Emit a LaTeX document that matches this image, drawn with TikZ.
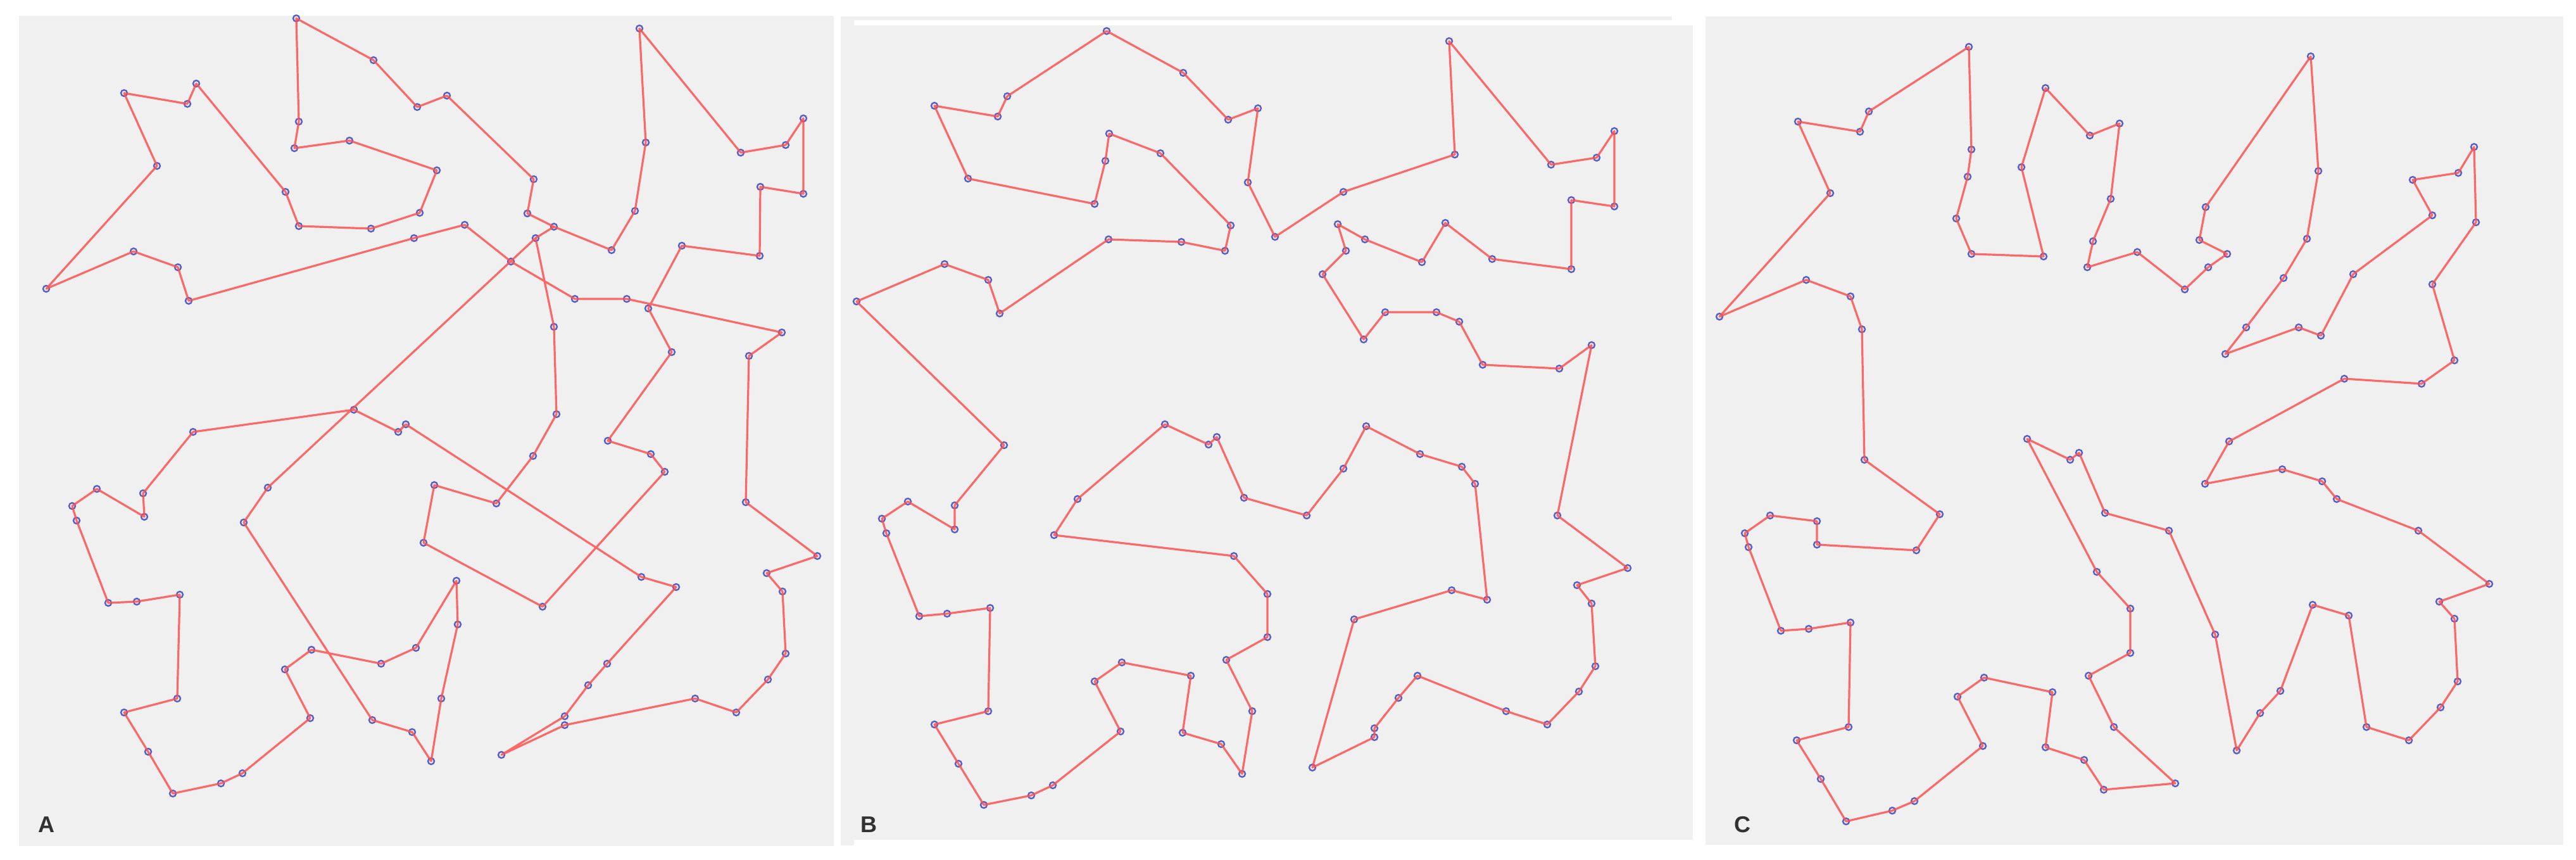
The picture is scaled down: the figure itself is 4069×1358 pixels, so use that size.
\documentclass[tikz,border=0pt]{standalone}
\usepackage{fontspec}
\setmainfont{Liberation Sans}
\definecolor{panelbg}{RGB}{240,240,240}
\definecolor{tourred}{RGB}{255,80,80}
\definecolor{ptblue}{RGB}{85,95,200}
\definecolor{lblgray}{RGB}{50,50,50}
\tikzset{
  tour/.style={draw=tourred, line width=0.8pt, line join=round, opacity=0.85},
  city/.style={circle, draw=ptblue, line width=0.6pt, inner sep=0pt, minimum size=2.5pt},
  panel/.style={fill=panelbg, draw=none},
  lbl/.style={font=\bfseries\fontsize{9}{9}\selectfont, text=lblgray, inner sep=0pt}
}
\begin{document}
\begin{tikzpicture}[x=0.25pt, y=-0.25pt]
\useasboundingbox (0,0) rectangle (4069,1358);
\fill[white] (0,0) rectangle (4069,1358);
% panels
\fill[panel] (30,25) rectangle (1317,1336);
\fill[panel] (1328,26) rectangle (2641,32);
\fill[panel] (1328,32) rectangle (1349,1335);
\fill[panel] (1349,40) rectangle (2674,1326);
\fill[panel] (2694,26) rectangle (4049,1334);

% ---------- Panel A points ----------
\coordinate (a1) at (468,29);
\coordinate (a2) at (590,95);
\coordinate (a3) at (659,169);
\coordinate (a4) at (472,192);
\coordinate (a5) at (465,234);
\coordinate (a6) at (552,222);
\coordinate (a7) at (663,336);
\coordinate (a8) at (586,361);
\coordinate (a9) at (472,357);
\coordinate (a10) at (451,303);
\coordinate (a11) at (310,132);
\coordinate (a12) at (296,164);
\coordinate (a13) at (196,147);
\coordinate (a14) at (248,262);
\coordinate (a15) at (73,456);
\coordinate (a16) at (211,397);
\coordinate (a17) at (281,422);
\coordinate (a18) at (298,475);
\coordinate (a19) at (654,376);
\coordinate (a20) at (559,647);
\coordinate (a21) at (641,670);
\coordinate (a22) at (629,682);
\coordinate (a23) at (305,682);
\coordinate (b1) at (1010,45);
\coordinate (b2) at (1020,225);
\coordinate (b3) at (1003,333);
\coordinate (b4) at (966,395);
\coordinate (b5) at (875,358);
\coordinate (b6) at (846,376);
\coordinate (b7) at (807,413);
\coordinate (b8) at (734,355);
\coordinate (b9) at (833,337);
\coordinate (b10) at (843,283);
\coordinate (b11) at (706,151);
\coordinate (b12) at (690,269);
\coordinate (b13) at (908,472);
\coordinate (b14) at (990,472);
\coordinate (b15) at (1024,487);
\coordinate (b16) at (1061,556);
\coordinate (b17) at (1077,388);
\coordinate (b18) at (1200,404);
\coordinate (b19) at (1201,295);
\coordinate (b20) at (1269,306);
\coordinate (b21) at (1269,187);
\coordinate (b22) at (1241,229);
\coordinate (b23) at (1170,241);
\coordinate (b24) at (1235,525);
\coordinate (b25) at (1183,562);
\coordinate (b26) at (875,516);
\coordinate (b27) at (879,654);
\coordinate (c2) at (226,779);
\coordinate (c3) at (228,816);
\coordinate (c4) at (153,772);
\coordinate (c5) at (114,799);
\coordinate (c6) at (121,822);
\coordinate (c7) at (171,952);
\coordinate (c8) at (216,950);
\coordinate (c9) at (284,939);
\coordinate (c10) at (280,1103);
\coordinate (c11) at (196,1125);
\coordinate (c12) at (234,1187);
\coordinate (c13) at (273,1253);
\coordinate (c14) at (349,1237);
\coordinate (c15) at (383,1221);
\coordinate (c16) at (490,1134);
\coordinate (c17) at (450,1057);
\coordinate (c18) at (492,1026);
\coordinate (c19) at (602,1048);
\coordinate (c20) at (657,1023);
\coordinate (c22) at (423,770);
\coordinate (c23) at (385,825);
\coordinate (c24) at (588,1137);
\coordinate (c25) at (651,1156);
\coordinate (d1) at (842,720);
\coordinate (d2) at (686,766);
\coordinate (d3) at (784,795);
\coordinate (d4) at (669,857);
\coordinate (d5) at (857,958);
\coordinate (d6) at (1013,911);
\coordinate (d7) at (1068,927);
\coordinate (d8) at (960,696);
\coordinate (d9) at (1028,717);
\coordinate (d10) at (1050,745);
\coordinate (d11) at (1178,793);
\coordinate (d12) at (1291,878);
\coordinate (d13) at (1211,905);
\coordinate (d14) at (1236,934);
\coordinate (d15) at (1241,1032);
\coordinate (d16) at (1213,1073);
\coordinate (d17) at (1163,1125);
\coordinate (d18) at (1098,1103);
\coordinate (d19) at (892,1131);
\coordinate (d20) at (892,1145);
\coordinate (d21) at (792,1192);
\coordinate (d22) at (929,1082);
\coordinate (d23) at (959,1048);
\coordinate (d24) at (721,917);
\coordinate (d25) at (723,986);
\coordinate (d26) at (697,1103);
\coordinate (d27) at (681,1202);

% ---------- Panel B points ----------
\coordinate (e1) at (1748,49);
\coordinate (e2) at (1869,115);
\coordinate (e3) at (1940,189);
\coordinate (e4) at (1987,171);
\coordinate (e5) at (1971,288);
\coordinate (e7) at (1591,152);
\coordinate (e8) at (1576,184);
\coordinate (e9) at (1476,167);
\coordinate (e10) at (1529,282);
\coordinate (e11) at (1729,322);
\coordinate (e12) at (1746,254);
\coordinate (e13) at (1752,211);
\coordinate (e14) at (1833,242);
\coordinate (e15) at (1944,356);
\coordinate (e16) at (1935,396);
\coordinate (e17) at (1866,382);
\coordinate (e18) at (1751,378);
\coordinate (e19) at (1579,495);
\coordinate (e20) at (1561,442);
\coordinate (e21) at (1492,417);
\coordinate (e22) at (1353,476);
\coordinate (f1) at (2289,65);
\coordinate (f2) at (2298,244);
\coordinate (f3) at (2122,303);
\coordinate (f4) at (2014,374);
\coordinate (f5) at (2450,260);
\coordinate (f6) at (2522,249);
\coordinate (f7) at (2550,207);
\coordinate (f8) at (2550,326);
\coordinate (f9) at (2482,316);
\coordinate (f10) at (2482,425);
\coordinate (f11) at (2357,409);
\coordinate (f12) at (2283,352);
\coordinate (f13) at (2246,414);
\coordinate (f14) at (2156,378);
\coordinate (f15) at (2113,354);
\coordinate (f16) at (2126,396);
\coordinate (f17) at (2089,433);
\coordinate (f18) at (2154,536);
\coordinate (f19) at (2188,493);
\coordinate (f20) at (2269,493);
\coordinate (f21) at (2305,508);
\coordinate (f22) at (2342,576);
\coordinate (f23) at (2463,582);
\coordinate (f24) at (2514,545);
\coordinate (g1) at (1586,703);
\coordinate (g2) at (1508,798);
\coordinate (g3) at (1508,836);
\coordinate (g4) at (1434,792);
\coordinate (g5) at (1393,819);
\coordinate (g6) at (1400,842);
\coordinate (g7) at (1452,973);
\coordinate (g8) at (1496,969);
\coordinate (g9) at (1564,960);
\coordinate (g10) at (1561,1123);
\coordinate (g11) at (1476,1144);
\coordinate (g12) at (1514,1206);
\coordinate (g13) at (1554,1271);
\coordinate (g14) at (1629,1256);
\coordinate (g15) at (1663,1240);
\coordinate (g16) at (1770,1155);
\coordinate (g17) at (1729,1076);
\coordinate (g18) at (1772,1046);
\coordinate (g19) at (1881,1067);
\coordinate (g20) at (1868,1157);
\coordinate (g21) at (1929,1175);
\coordinate (g22) at (1962,1222);
\coordinate (g23) at (1978,1123);
\coordinate (g24) at (1937,1042);
\coordinate (g25) at (2002,1006);
\coordinate (g26) at (2002,938);
\coordinate (g27) at (1949,878);
\coordinate (g28) at (1665,845);
\coordinate (g29) at (1702,788);
\coordinate (g30) at (1840,670);
\coordinate (g31) at (1909,702);
\coordinate (g32) at (1922,690);
\coordinate (g33) at (1965,786);
\coordinate (h1) at (2158,673);
\coordinate (h2) at (2122,740);
\coordinate (h3) at (2064,814);
\coordinate (h4) at (2243,717);
\coordinate (h5) at (2309,737);
\coordinate (h6) at (2330,764);
\coordinate (h7) at (2349,947);
\coordinate (h8) at (2293,932);
\coordinate (h9) at (2139,978);
\coordinate (h10) at (2073,1212);
\coordinate (h11) at (2171,1164);
\coordinate (h12) at (2171,1150);
\coordinate (h13) at (2209,1102);
\coordinate (h14) at (2239,1067);
\coordinate (h15) at (2379,1123);
\coordinate (h16) at (2444,1144);
\coordinate (h17) at (2494,1092);
\coordinate (h18) at (2520,1052);
\coordinate (h19) at (2514,953);
\coordinate (h20) at (2491,924);
\coordinate (h21) at (2571,897);
\coordinate (h22) at (2460,814);

% ---------- Panel C points ----------
\coordinate (k1) at (3110,74);
\coordinate (k2) at (2952,176);
\coordinate (k3) at (2938,208);
\coordinate (k4) at (2840,192);
\coordinate (k5) at (2891,305);
\coordinate (k6) at (2716,500);
\coordinate (k7) at (2853,442);
\coordinate (k8) at (2923,468);
\coordinate (k9) at (2941,520);
\coordinate (k10) at (2945,726);
\coordinate (k11) at (3064,812);
\coordinate (k12) at (3027,869);
\coordinate (k13) at (2870,860);
\coordinate (k14) at (2870,823);
\coordinate (k15) at (2796,814);
\coordinate (k16) at (2756,842);
\coordinate (k17) at (2762,864);
\coordinate (k18) at (2813,996);
\coordinate (k19) at (2857,993);
\coordinate (k20) at (2923,983);
\coordinate (k21) at (2920,1148);
\coordinate (k22) at (2838,1169);
\coordinate (k23) at (2876,1230);
\coordinate (k24) at (2916,1297);
\coordinate (k25) at (2989,1280);
\coordinate (k26) at (3024,1265);
\coordinate (k27) at (3132,1178);
\coordinate (k28) at (3092,1100);
\coordinate (k29) at (3134,1070);
\coordinate (k30) at (3242,1093);
\coordinate (k31) at (3231,1180);
\coordinate (k32) at (3292,1200);
\coordinate (k33) at (3323,1247);
\coordinate (k34) at (3436,1237);
\coordinate (k35) at (3339,1148);
\coordinate (k36) at (3299,1067);
\coordinate (k37) at (3365,1031);
\coordinate (k38) at (3365,961);
\coordinate (k39) at (3312,903);
\coordinate (k40) at (3202,693);
\coordinate (k41) at (3270,726);
\coordinate (k42) at (3284,715);
\coordinate (k43) at (3325,810);
\coordinate (k44) at (3426,838);
\coordinate (k45) at (3499,1002);
\coordinate (k46) at (3533,1185);
\coordinate (k47) at (3570,1126);
\coordinate (k48) at (3602,1091);
\coordinate (k49) at (3653,955);
\coordinate (k50) at (3710,972);
\coordinate (k51) at (3738,1148);
\coordinate (k52) at (3805,1169);
\coordinate (k53) at (3855,1117);
\coordinate (k54) at (3882,1076);
\coordinate (k55) at (3877,977);
\coordinate (k56) at (3853,950);
\coordinate (k57) at (3932,922);
\coordinate (k58) at (3820,838);
\coordinate (k59) at (3691,788);
\coordinate (k60) at (3668,760);
\coordinate (k61) at (3605,741);
\coordinate (k62) at (3483,764);
\coordinate (k63) at (3521,697);
\coordinate (k64) at (3703,598);
\coordinate (k65) at (3825,606);
\coordinate (k66) at (3877,569);
\coordinate (k67) at (3842,449);
\coordinate (k68) at (3911,351);
\coordinate (k69) at (3908,232);
\coordinate (k70) at (3883,273);
\coordinate (k71) at (3811,284);
\coordinate (k72) at (3842,340);
\coordinate (k73) at (3717,433);
\coordinate (k74) at (3666,530);
\coordinate (k75) at (3631,517);
\coordinate (k76) at (3515,559);
\coordinate (k77) at (3548,517);
\coordinate (k78) at (3607,439);
\coordinate (k79) at (3644,377);
\coordinate (k80) at (3662,270);
\coordinate (k81) at (3650,89);
\coordinate (k82) at (3484,327);
\coordinate (k83) at (3474,379);
\coordinate (k84) at (3518,401);
\coordinate (k85) at (3488,422);
\coordinate (k86) at (3451,457);
\coordinate (k87) at (3376,398);
\coordinate (k88) at (3297,422);
\coordinate (k89) at (3306,381);
\coordinate (k90) at (3334,314);
\coordinate (k91) at (3348,195);
\coordinate (k92) at (3301,214);
\coordinate (k93) at (3231,139);
\coordinate (k94) at (3193,264);
\coordinate (k95) at (3228,405);
\coordinate (k96) at (3114,401);
\coordinate (k97) at (3090,345);
\coordinate (k98) at (3108,279);
\coordinate (k99) at (3114,236);

% ---------- city markers ----------
\foreach \n in {a1,a2,a3,a4,a5,a6,a7,a8,a9,a10,a11,a12,a13,a14,a15,a16,a17,a18,a19,a20,a21,a22,a23,
  b1,b2,b3,b4,b5,b6,b7,b8,b9,b10,b11,b12,b13,b14,b15,b16,b17,b18,b19,b20,b21,b22,b23,b24,b25,b26,b27,
  c2,c3,c4,c5,c6,c7,c8,c9,c10,c11,c12,c13,c14,c15,c16,c17,c18,c19,c20,c22,c23,c24,c25,
  d1,d2,d3,d4,d5,d6,d7,d8,d9,d10,d11,d12,d13,d14,d15,d16,d17,d18,d19,d20,d21,d22,d23,d24,d25,d26,d27,
  e1,e2,e3,e4,e5,e7,e8,e9,e10,e11,e12,e13,e14,e15,e16,e17,e18,e19,e20,e21,e22,
  f1,f2,f3,f4,f5,f6,f7,f8,f9,f10,f11,f12,f13,f14,f15,f16,f17,f18,f19,f20,f21,f22,f23,f24,
  g1,g2,g3,g4,g5,g6,g7,g8,g9,g10,g11,g12,g13,g14,g15,g16,g17,g18,g19,g20,g21,g22,g23,g24,g25,g26,g27,g28,g29,g30,g31,g32,g33,
  h1,h2,h3,h4,h5,h6,h7,h8,h9,h10,h11,h12,h13,h14,h15,h16,h17,h18,h19,h20,h21,h22}
  \node[city] (m-\n) at (\n) {};
\foreach \i in {1,...,99}
  \node[city] (m-k\i) at (k\i) {};

% ---------- tour A ----------
\draw[tour] (a1) -- (a4) -- (a5) -- (a6) -- (b12) -- (a7) -- (a8) -- (a9) -- (a10) -- (a11) -- (a12) -- (a13) -- (a14) -- (a15) -- (a16) -- (a17) -- (a18) -- (a19) -- (b8) -- (b7) -- (b13) -- (b14) -- (b24) -- (b25) -- (d11) -- (d12) -- (d13) -- (d14) -- (d15) -- (d16) -- (d17) -- (d18) -- (d20) -- (d21) -- (d19) -- (d22) -- (d23) -- (d7) -- (d6) -- (a21) -- (a22) -- (a20) -- (a23) -- (c2) -- (c3) -- (c4) -- (c5) -- (c6) -- (c7) -- (c8) -- (c9) -- (c10) -- (c11) -- (c12) -- (c13) -- (c14) -- (c15) -- (c16) -- (c17) -- (c18) -- (c19) -- (c20) -- (d24) -- (d25) -- (d26) -- (d27) -- (c25) -- (c24) -- (c23) -- (c22) -- (b6) -- (b26) -- (b27) -- (d1) -- (d3) -- (d2) -- (d4) -- (d5) -- (d10) -- (d9) -- (d8) -- (b16) -- (b15) -- (b17) -- (b18) -- (b19) -- (b20) -- (b21) -- (b22) -- (b23) -- (b1) -- (b2) -- (b3) -- (b4) -- (b5) -- (b9) -- (b10) -- (b11) -- (a3) -- (a2) -- cycle;
\draw[tour] (b6) -- (b5);

% ---------- tour B ----------
\draw[tour] (e1) -- (e2) -- (e3) -- (e4) -- (e5) -- (f4) -- (f3) -- (f2) -- (f1) -- (f5) -- (f6) -- (f7) -- (f8) -- (f9) -- (f10) -- (f11) -- (f12) -- (f13) -- (f14) -- (f15) -- (f16) -- (f17) -- (f18) -- (f19) -- (f20) -- (f21) -- (f22) -- (f23) -- (f24) -- (h22) -- (h21) -- (h20) -- (h19) -- (h18) -- (h17) -- (h16) -- (h15) -- (h14) -- (h13) -- (h12) -- (h11) -- (h10) -- (h9) -- (h8) -- (h7) -- (h6) -- (h5) -- (h4) -- (h1) -- (h2) -- (h3) -- (g33) -- (g32) -- (g31) -- (g30) -- (g29) -- (g28) -- (g27) -- (g26) -- (g25) -- (g24) -- (g23) -- (g22) -- (g21) -- (g20) -- (g19) -- (g18) -- (g17) -- (g16) -- (g15) -- (g14) -- (g13) -- (g12) -- (g11) -- (g10) -- (g9) -- (g8) -- (g7) -- (g6) -- (g5) -- (g4) -- (g3) -- (g2) -- (g1) -- (e22) -- (e21) -- (e20) -- (e19) -- (e18) -- (e17) -- (e16) -- (e15) -- (e14) -- (e13) -- (e12) -- (e11) -- (e10) -- (e9) -- (e8) -- (e7) -- cycle;

% ---------- tour C ----------
\draw[tour] (k1) \foreach \i in {2,...,99} { -- (k\i) } -- cycle;

% ---------- labels ----------
\node[lbl] (labA) at (74,1302) {A};
\node[lbl] (labB) at (1372,1302) {B};
\node[lbl] (labC) at (2752,1302) {C};
\end{tikzpicture}
\end{document}
